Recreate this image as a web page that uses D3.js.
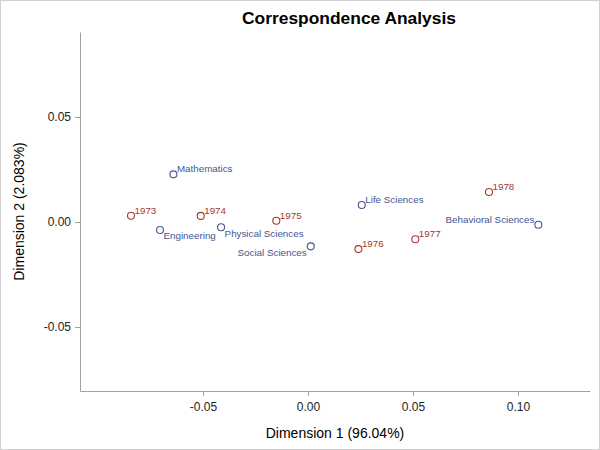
<!DOCTYPE html>
<html>
<head>
<meta charset="utf-8">
<script src="https://cdn.jsdelivr.net/npm/d3@7"></script>
<style>
  body { margin: 0; background: #fff; }
  text { font-family: Arial, "Liberation Sans", sans-serif; }
</style>
</head>
<body>
<div id="chart"></div>
<script>
const width = 600,
  height = 450,
  margin = { top: 32, bottom: 59, left: 80, right: 10 };

// row points (fields of study)
const rowNames = ["Mathematics", "Engineering", "Physical Sciences", "Social Sciences", "Life Sciences", "Behavioral Sciences"];
const rowDim1 = [-0.0641, -0.0705, -0.0414, 0.0013, 0.0256, 0.1097];
const rowDim2 = [0.0227, -0.0038, -0.0025, -0.0116, 0.0081, -0.0013];
const rowPlace = ["ur", "lr", "lr", "ll", "ur", "ul"];

// column points (years)
const colNames = ["1973", "1974", "1975", "1976", "1977", "1978"];
const colDim1 = [-0.0843, -0.0511, -0.0151, 0.0240, 0.0511, 0.0862];
const colDim2 = [0.0030, 0.0029, 0.0006, -0.0129, -0.0082, 0.0143];
const colPlace = ["ur", "ur", "ur", "ur", "ur", "ur"];

const xTicks = [-0.05, 0, 0.05, 0.10];
const yTicks = [-0.05, 0, 0.05];

const rowColor = "#445694",
  colColor = "#a23a2e";

const svg = d3.select("#chart")
  .append("svg")
  .attr("width", width)
  .attr("height", height);

// outer frame
svg.append("rect")
  .attr("x", 0.5).attr("y", 0.5)
  .attr("width", width - 1).attr("height", height - 1)
  .attr("fill", "none")
  .attr("stroke", "#d0d0d0");

const x = d3.scaleLinear()
  .domain([-0.1086, 0.1343])
  .range([margin.left, width - margin.right]);

const y = d3.scaleLinear()
  .domain([-0.0805, 0.0905])
  .range([height - margin.bottom, margin.top]);

// Add X axis
const gx = svg.append("g")
  .attr("transform", "translate(0," + (height - margin.bottom) + ")")
  .call(d3.axisBottom(x).tickValues(xTicks).tickFormat(d3.format(".2f")).tickSize(5).tickSizeOuter(0).tickPadding(6));

// Add Y axis
const gy = svg.append("g")
  .attr("transform", "translate(" + margin.left + ",0)")
  .call(d3.axisLeft(y).tickValues(yTicks).tickFormat(d3.format(".2f")).tickSize(5).tickSizeOuter(0).tickPadding(4));

[gx, gy].forEach(g => {
  g.select(".domain").attr("stroke", "#a0a0a0");
  g.selectAll(".tick line").attr("stroke", "#a0a0a0");
  g.selectAll(".tick text")
    .attr("fill", "#222")
    .style("font-size", "12px")
    .style("font-family", "Arial, 'Liberation Sans', sans-serif")
    .text(d => d3.format(".2f")(d).replace("−", "-"));
});

// title
svg.append("text")
  .attr("x", 349)
  .attr("y", 24)
  .attr("text-anchor", "middle")
  .style("font-size", "17.4px")
  .style("font-weight", "bold")
  .attr("fill", "#000")
  .text("Correspondence Analysis");

// axis labels
svg.append("text")
  .attr("x", (margin.left + width - margin.right) / 2)
  .attr("y", 438)
  .attr("text-anchor", "middle")
  .style("font-size", "14px")
  .attr("fill", "#000")
  .text("Dimension 1 (96.04%)");

svg.append("text")
  .attr("transform", "translate(24," + ((margin.top + height - margin.bottom) / 2) + ") rotate(-90)")
  .attr("text-anchor", "middle")
  .style("font-size", "14px")
  .attr("fill", "#000")
  .text("Dimension 2 (2.083%)");

// build point table
const points = [];
rowNames.forEach((n, i) => points.push({ name: n, d1: rowDim1[i], d2: rowDim2[i], place: rowPlace[i], color: rowColor }));
colNames.forEach((n, i) => points.push({ name: n, d1: colDim1[i], d2: colDim2[i], place: colPlace[i], color: colColor }));

svg.selectAll(".pt")
  .data(points)
  .join("circle")
  .attr("class", "pt")
  .attr("cx", d => x(d.d1))
  .attr("cy", d => y(d.d2))
  .attr("r", 3.5)
  .attr("fill", "none")
  .attr("stroke", d => d.color)
  .attr("stroke-width", 1.1);

svg.selectAll(".lbl")
  .data(points)
  .join("text")
  .attr("class", "lbl")
  .attr("x", d => x(d.d1) + (d.place[1] === "r" ? 3.5 : -4))
  .attr("y", d => y(d.d2) + (d.place[0] === "u" ? -2 : 9.5))
  .attr("text-anchor", d => d.place[1] === "r" ? "start" : "end")
  .style("font-size", "9.8px")
  .attr("fill", d => d.color)
  .text(d => d.name);
</script>
</body>
</html>
